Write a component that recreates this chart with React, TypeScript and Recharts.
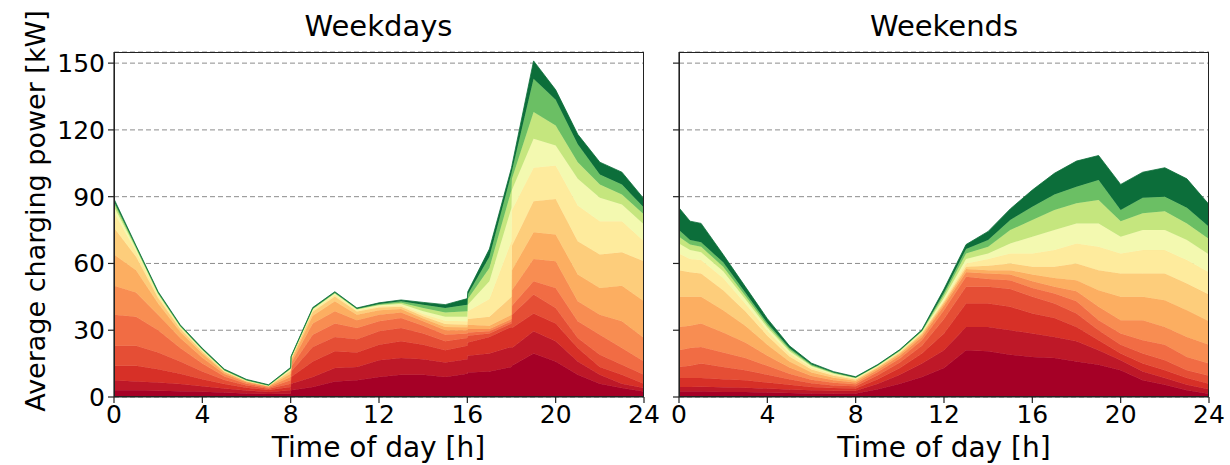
import React from 'react';
import { AreaChart, Area, XAxis, YAxis, CartesianGrid } from 'recharts';

// ---------- categories (hour of day) ----------
const weekdayHours = [0, 1, 2, 3, 4, 5, 6, 7, 8, 8.02, 9, 10, 11, 12, 13, 14, 15, 16, 16.02, 17, 18, 18.02, 19, 20, 21, 22, 23, 24];
const weekendHours = [0, 0.5, 1, 2, 3, 4, 5, 6, 7, 8, 9, 10, 11, 12, 13, 14, 15, 16, 17, 18, 19, 20, 21, 22, 23, 24];

// ---------- weekday series (kW per group, stacked bottom -> top) ----------
const wdL1 = [3, 3, 2.8, 2.6, 2.4, 2, 1.6, 1.3, 1.5, 3, 4.5, 7, 7.5, 9, 10, 10, 9, 10.5, 11, 11.5, 13.5, 14, 19.5, 16, 10, 6, 4, 2.5];
const wdL2 = [4.5, 4, 3.7, 3.2, 2.4, 1.8, 1.3, 1, 1.5, 3, 4.5, 6, 6, 7.5, 7.5, 7, 6.5, 6.5, 7.5, 8, 9, 8, 10, 9, 6, 4, 2, 1.5];
const wdL3 = [6.5, 7, 6, 4.7, 3.2, 2, 1.3, 0.8, 1.5, 3, 7, 7.5, 6.5, 7, 7.5, 6.5, 5.5, 6, 6, 7.5, 9, 9, 8, 8, 6, 3.5, 4, 2];
const wdL4 = [9, 9, 7.5, 5.5, 3.5, 1.8, 1, 0.6, 1.5, 2.5, 6.5, 6.5, 6, 6, 6, 5, 4, 3.5, 3, 1.5, 1.5, 6, 8.5, 7, 4.5, 5.5, 4.5, 4];
const wdL5 = [14, 13, 10, 6, 3.5, 1.6, 0.8, 0.5, 1.5, 2, 5.5, 6, 5, 4.5, 4.5, 3.5, 3, 2, 1.5, 1, 1, 4, 6, 9, 7.5, 9, 7.5, 6];
const wdL6 = [13, 11, 7, 4.5, 2.6, 1.1, 0.6, 0.4, 1.5, 1.7, 5, 5.5, 3.5, 3, 2.5, 2, 2, 1.5, 1.5, 1, 1, 7, 10, 12, 9, 9, 12, 10.5];
const wdL7 = [14, 10, 5, 2.8, 1.9, 0.8, 0.4, 0.3, 1.5, 1.2, 3.5, 4.5, 2.5, 2, 1.5, 1.3, 1.5, 1.3, 2, 1.5, 2, 9, 12, 12, 12, 12, 16, 16.5];
const wdL8 = [12, 6, 2.5, 1.4, 0.9, 0.4, 0.2, 0.1, 1.2, 0.8, 1.8, 2.2, 1.4, 1.2, 1, 1, 1.3, 1.2, 2.5, 4, 8, 11, 14, 16, 15, 15, 15, 18];
const wdL9 = [7, 2.5, 1.2, 0.6, 0.5, 0.3, 0.1, 0.1, 0.6, 0.4, 0.8, 0.9, 0.6, 0.6, 0.7, 1, 1.5, 1.5, 3.5, 8, 25, 16, 15, 15, 16, 15, 14, 9];
const wdL10 = [2.5, 1, 0.5, 0.3, 0.2, 0.1, 0.1, 0.05, 0.3, 0.2, 0.3, 0.4, 0.3, 0.4, 0.6, 1.2, 1.7, 2, 3, 8, 15, 9, 13, 9, 12, 10.5, 7.5, 7.5];
const wdL11 = [1.5, 0.5, 0.3, 0.2, 0.2, 0.1, 0.1, 0.05, 0.2, 0.1, 0.2, 0.2, 0.2, 0.3, 0.6, 1.5, 2, 2.5, 2.5, 6, 8, 5, 12, 9, 7.5, 6, 4.5, 4.5];
const wdL12 = [1, 0.5, 0.3, 0.2, 0.2, 0.1, 0.1, 0.05, 0.1, 0.1, 0.2, 0.2, 0.2, 0.3, 0.6, 1.5, 2, 3, 2, 5, 7.5, 3.5, 15, 11.5, 8, 4.5, 4.5, 3];
const wdL13 = [1, 0.5, 0.5, 0.4, 0.4, 0.4, 0.3, 0.25, 0.4, 0.3, 0.4, 0.4, 0.3, 0.5, 0.6, 1, 1.5, 2.7, 1.3, 3.5, 2.5, 2.5, 8, 4.5, 4.5, 5.5, 5.5, 4];

// ---------- weekend series ----------
const weL1 = [2.5, 2.5, 2.5, 2.3, 2.2, 2, 1.8, 1.6, 1.5, 1.6, 3.5, 6, 9, 13, 21, 20.5, 19, 18, 17.5, 16, 14.5, 12, 7.5, 5.5, 3, 1.5];
const weL2 = [2, 2, 2.1, 2.1, 2, 1.8, 1.6, 1.4, 1.3, 1.2, 2.5, 4, 6, 8, 10.5, 11, 11, 10.5, 9.5, 9, 6.5, 4.5, 4, 3, 2.5, 2];
const weL3 = [4, 4, 3.9, 3.6, 3.3, 2.7, 2.1, 1.5, 1.2, 1, 2, 3, 4.5, 7.5, 10.5, 10.5, 10.5, 9, 8.5, 6.5, 4.5, 3, 3.5, 3.5, 3, 2.5];
const weL4 = [5, 5.5, 6.5, 5.5, 4.5, 3.5, 2.5, 1.7, 1.2, 1, 1.8, 2.5, 3.5, 6.5, 7.5, 7.5, 8, 7.5, 6.5, 6, 4.5, 4, 4.5, 4.5, 3.5, 3.5];
const weL5 = [7.5, 8, 7.5, 6.5, 5.5, 4, 2.5, 1.6, 1.2, 0.9, 1.4, 1.8, 2.5, 4, 4.5, 3.5, 4, 4, 4.5, 5.5, 4.5, 5, 6, 7, 6, 5.5];
const weL6 = [10.5, 10, 10.5, 9, 7, 4.5, 2.7, 1.6, 1.1, 0.8, 1, 1.2, 1.5, 2, 2, 2.5, 2.5, 3, 3, 4.5, 6, 6, 9, 8, 9, 8.5];
const weL7 = [13.5, 13, 12, 10, 7.5, 5, 2.8, 1.6, 1.1, 0.8, 0.8, 0.9, 1, 1, 1.5, 1.5, 2, 3, 4, 5, 7.5, 10.5, 10.5, 12, 12, 10.5];
const weL8 = [12, 11, 10.5, 9, 6.5, 4, 2.2, 1.3, 0.9, 0.6, 0.5, 0.6, 0.6, 0.8, 1, 2, 3, 3.5, 5, 7.5, 9, 10.5, 10.5, 12, 12, 12];
const weL9 = [7.5, 6, 6, 5.5, 3.5, 2.3, 1.5, 0.9, 0.6, 0.4, 0.3, 0.4, 0.4, 0.7, 1.5, 3, 4.5, 6, 7.5, 9, 10.5, 9, 10.5, 10.5, 10.5, 10];
const weL10 = [4.5, 4, 3.5, 3, 2, 1.4, 0.9, 0.6, 0.4, 0.2, 0.2, 0.2, 0.3, 1, 2, 2.5, 4.5, 7.5, 9, 9, 10.5, 7.5, 9, 9, 9, 8];
const weL11 = [3, 2.5, 2.5, 2, 1.5, 1, 0.7, 0.4, 0.3, 0.2, 0.2, 0.2, 0.3, 1.3, 2.5, 3, 6, 7.5, 9, 9, 10.5, 7, 7.5, 8.5, 7.5, 7];
const weL12 = [3, 2, 2, 2, 1.5, 1, 0.7, 0.4, 0.2, 0.1, 0.1, 0.2, 0.2, 1.2, 2, 3, 4.5, 6, 7, 7.5, 9, 5, 7, 6.5, 7, 5.5];
const weL13 = [10, 8.5, 8.5, 3.5, 2.6, 2, 1, 0.6, 0.4, 0.3, 0.3, 0.3, 0.4, 1.5, 2, 3.9, 5, 7.5, 9.5, 11.5, 11, 11.5, 11.5, 13, 13, 10];

// ---------- ticks ----------
const xTicks = [0, 4, 8, 12, 16, 20, 24];
const yTicks = [0, 30, 60, 90, 120, 150];

const weekdayLayers = [wdL1, wdL2, wdL3, wdL4, wdL5, wdL6, wdL7, wdL8, wdL9, wdL10, wdL11, wdL12, wdL13];
const weekendLayers = [weL1, weL2, weL3, weL4, weL5, weL6, weL7, weL8, weL9, weL10, weL11, weL12, weL13];

const COLORS = [
  '#a50026', '#be1828', '#d73027', '#e54e35', '#f16c44', '#f88d52', '#fcae61',
  '#fdcd7b', '#feeb9d', '#f3f9b0', '#c5e67e', '#6bbf64', '#0c6e3a',
];

const FONT = "'DejaVu Sans', sans-serif";

function buildRows(hours: number[], layers: number[][]) {
  return hours.map((h, i) => {
    const row: Record<string, number> = { h };
    layers.forEach((arr, k) => {
      row[`l${k}`] = arr[i];
    });
    return row;
  });
}

const EmptyTick = () => <g />;

type PanelProps = {
  hours: number[];
  layers: number[][];
  left: number;
  width: number;
  yAxisWidth: number;
  rightMargin: number;
  showYLabels: boolean;
};

function Panel({ hours, layers, left, width, yAxisWidth, rightMargin, showYLabels }: PanelProps) {
  const rows = buildRows(hours, layers);
  const tickStyle = { fontSize: 25, fill: '#000', fontFamily: FONT };
  return (
    <div style={{ position: 'absolute', left, top: 0, width, height: 465 }}>
      <AreaChart
        width={width}
        height={465}
        data={rows}
        margin={{ top: 52, right: rightMargin, bottom: 28, left: 0 }}
      >
        <CartesianGrid vertical={false} stroke="#8c8c8c" strokeDasharray="5 3" strokeWidth={1} />
        <XAxis
          dataKey="h"
          type="number"
          domain={[0, 24]}
          ticks={xTicks}
          interval={0}
          height={40}
          tickSize={6}
          tickMargin={2}
          axisLine={{ stroke: '#222', strokeWidth: 1.2 }}
          tickLine={{ stroke: '#222', strokeWidth: 1.2 }}
          tick={tickStyle}
          allowDataOverflow
        />
        <YAxis
          type="number"
          domain={[0, 155]}
          ticks={yTicks}
          interval={0}
          width={yAxisWidth}
          tickSize={6}
          tickMargin={3}
          axisLine={{ stroke: '#222', strokeWidth: 1.2 }}
          tickLine={{ stroke: '#222', strokeWidth: 1.2 }}
          tick={showYLabels ? tickStyle : EmptyTick}
          allowDataOverflow
        />
        {layers.map((_, k) => (
          <Area
            key={k}
            dataKey={`l${k}`}
            stackId="s"
            type="linear"
            fill={COLORS[k]}
            fillOpacity={1}
            stroke={COLORS[k]}
            strokeWidth={0.8}
            dot={false}
            activeDot={false}
            isAnimationActive={false}
          />
        ))}
      </AreaChart>
    </div>
  );
}

export default function App() {
  const textBase: React.CSSProperties = {
    position: 'absolute',
    fontFamily: FONT,
    color: '#000',
    whiteSpace: 'nowrap',
    lineHeight: 1,
  };
  return (
    <div style={{ position: 'absolute', left: 0, top: 0, width: 1230, height: 465, background: '#fff', overflow: 'hidden' }}>
      <Panel hours={weekdayHours} layers={weekdayLayers} left={0} width={660} yAxisWidth={114} rightMargin={16} showYLabels={true} />
      <Panel hours={weekendHours} layers={weekendLayers} left={660} width={570} yAxisWidth={19} rightMargin={21} showYLabels={false} />

      {/* frames (matplotlib spines) */}
      <div style={{ position: 'absolute', left: 113.5, top: 51.5, width: 530, height: 345.5, border: '1.2px solid #222', boxSizing: 'border-box', pointerEvents: 'none' }} />
      <div style={{ position: 'absolute', left: 678.5, top: 51.5, width: 530.5, height: 345.5, border: '1.2px solid #222', boxSizing: 'border-box', pointerEvents: 'none' }} />

      {/* titles */}
      <div style={{ ...textBase, left: 378.5, top: 12, fontSize: 29, transform: 'translateX(-50%)' }}>Weekdays</div>
      <div style={{ ...textBase, left: 944, top: 12, fontSize: 29, transform: 'translateX(-50%)' }}>Weekends</div>

      {/* x labels */}
      <div style={{ ...textBase, left: 378.5, top: 434, fontSize: 28, transform: 'translateX(-50%)' }}>Time of day [h]</div>
      <div style={{ ...textBase, left: 944, top: 434, fontSize: 28, transform: 'translateX(-50%)' }}>Time of day [h]</div>

      {/* y label */}
      <div style={{ ...textBase, left: 35, top: 211, fontSize: 27, transform: 'translate(-50%, -50%) rotate(-90deg)' }}>
        Average charging power [kW]
      </div>
    </div>
  );
}
